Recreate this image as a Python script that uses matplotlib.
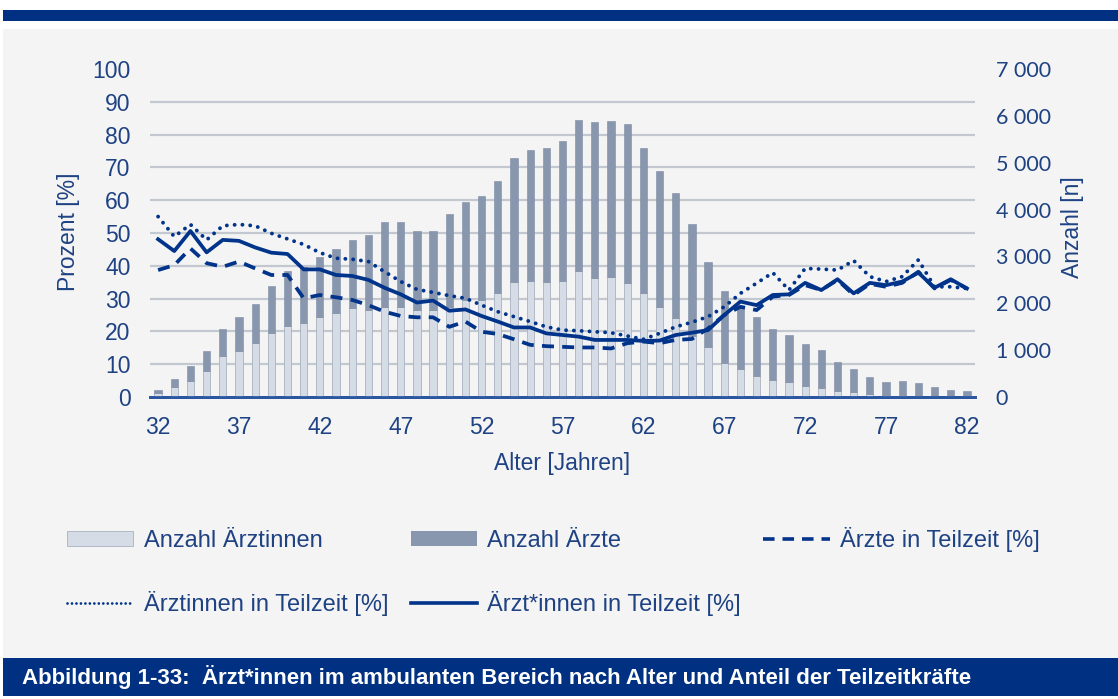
import matplotlib.pyplot as plt
import numpy as np
from matplotlib.ticker import MultipleLocator, FuncFormatter
from matplotlib.patches import Rectangle
from matplotlib.lines import Line2D

# Alter 32..82
alter = np.arange(32, 83)

# Anzahl (rechte Achse)
anzahl_aerztinnen = [85, 207, 348, 561, 874, 981, 1145, 1358, 1520, 1571,
                     1712, 1797, 1904, 1855, 1925, 1925, 1855, 1855, 1925, 2068,
                     2068, 2211, 2458, 2480, 2458, 2480, 2693, 2530, 2552, 2424,
                     2211, 1925, 1691, 1300, 1060, 718, 590, 454, 362, 313,
                     235, 185, 128, 100, 60, 40, 35, 30, 20, 15, 12]
anzahl_aerzte = [65, 173, 319, 419, 569, 731, 838, 1009, 1173, 1207,
                 1280, 1358, 1443, 1599, 1800, 1800, 1684, 1684, 1970, 2096,
                 2217, 2394, 2644, 2786, 2865, 2978, 3227, 3333, 3339, 3411,
                 3105, 2893, 2652, 2382, 1825, 1542, 1301, 1258, 1081, 1009,
                 895, 817, 625, 490, 360, 273, 306, 262, 187, 135, 116]

# Teilzeitanteile in % (linke Achse)
tz_aerzte = [38.7, 40.2, 45.3, 40.8, 39.7, 41.3, 39.2, 37.2, 37.2, 30.1,
             31.1, 30.4, 29.6, 28.0, 26.0, 24.7, 24.3, 24.3, 21.4, 23.0,
             19.9, 19.2, 17.6, 15.9, 15.5, 15.3, 15.1, 15.1, 14.8, 16.4,
             16.9, 16.4, 17.4, 17.7, 20.9, 25.0, 27.5, 26.5, 30.6, 31.1,
             34.1, 32.6, 35.7, 31.1, 34.5, 33.6, 34.8, 38.2, 33.1, 35.7, 33.1]
tz_aerztinnen = [55.0, 48.9, 52.6, 47.9, 52.2, 52.6, 52.2, 49.9, 48.2, 46.5,
                 44.0, 42.3, 42.0, 41.3, 38.2, 35.2, 32.8, 31.9, 30.9, 30.1,
                 28.0, 26.0, 24.5, 23.0, 21.4, 20.4, 20.2, 19.9, 19.6, 18.6,
                 17.6, 19.4, 21.4, 22.8, 24.5, 27.5, 31.6, 34.7, 37.9, 32.6,
                 39.2, 39.0, 38.7, 41.6, 36.7, 35.2, 36.7, 41.8, 33.6, 33.6, 33.1]
tz_gesamt = [48.1, 44.5, 50.6, 44.1, 47.9, 47.6, 45.6, 44.0, 43.6, 38.9,
             38.9, 37.2, 36.9, 35.7, 33.3, 31.3, 28.8, 29.4, 26.3, 26.7,
             24.7, 23.0, 21.2, 21.2, 19.4, 18.9, 18.4, 17.4, 17.4, 17.4,
             17.1, 17.2, 18.9, 19.6, 20.4, 25.0, 29.1, 28.0, 31.1, 31.3,
             34.8, 32.6, 35.9, 31.6, 34.8, 34.1, 35.2, 37.9, 33.3, 35.9, 33.1]

navy = '#00338a'
txt = '#1f4283'
hell = '#d6dce6'
dunkel = '#8896ae'

fig = plt.figure(figsize=(11.18, 6.99), dpi=100)
fig.patch.set_facecolor('white')

# Hintergrund, Balken oben, Bildunterschrift
fig.add_artist(Rectangle((3/1118, 1-658/699), 1, (658-29)/699, transform=fig.transFigure,
                         facecolor='#f4f4f4', edgecolor='none', zorder=-10))
fig.add_artist(Rectangle((3/1118, 1-21/699), 1, 11/699, transform=fig.transFigure,
                         facecolor='#003082', edgecolor='none', zorder=-9))
fig.add_artist(Rectangle((3/1118, 1-696/699), 1, 38/699, transform=fig.transFigure,
                         facecolor='#003082', edgecolor='none', zorder=-9))
fig.text(22/1118, 1-677/699,
         'Abbildung 1-33:  Ärzt*innen im ambulanten Bereich nach Alter und Anteil der Teilzeitkräfte',
         color='white', fontsize=16, fontweight='bold', family='Liberation Sans',
         va='center', ha='left')

ax = fig.add_axes([150/1118, 1-397/699, 825/1118, 328/699])
ax.set_facecolor('none')
ax2 = ax.twinx()

# Balken auf ax (Anzahl), Linien auf ax2 (Prozent) -> Linien liegen oben
w = 0.45
ax.bar(alter, anzahl_aerztinnen, width=w, color=hell, edgecolor='#aab2c0', linewidth=0.6, zorder=3)
ax.bar(alter, anzahl_aerzte, width=w, bottom=anzahl_aerztinnen, color=dunkel,
       edgecolor='#7d8ba3', linewidth=0.4, zorder=3)

ax.set_xlim(31.5, 82.5)
ax.set_ylim(0, 7000)
ax.yaxis.set_major_locator(MultipleLocator(1000))
ax.yaxis.set_minor_locator(MultipleLocator(700))
ax.yaxis.set_major_formatter(FuncFormatter(lambda v, p: f'{int(v):,}'.replace(',', ' ')))
ax.grid(which='minor', axis='y', color='#c3c7cf', linewidth=1.6, zorder=0)
ax.yaxis.tick_right()
ax.yaxis.set_label_position('right')
ax.tick_params(axis='y', which='both', length=0, pad=15, labelsize=15.5, labelcolor=txt)
for t in ax.get_yticklabels():
    t.set_family('Lato')
ax.set_xticks(alter[::5])
ax.tick_params(axis='x', length=0, pad=14, labelsize=16.5, labelcolor=txt)
for t in ax.get_xticklabels():
    t.set_family('Liberation Sans')
ax.set_xlabel('Alter [Jahren]', fontsize=16.5, color=txt, family='Liberation Sans', labelpad=9)

ax2.plot(alter, tz_aerzte, color=navy, lw=2.7, dashes=(3.2, 2.2), zorder=5)
ax2.plot(alter, tz_aerztinnen, color=navy, lw=2.8, dashes=(0.01, 2.0), dash_capstyle='round', zorder=5)
ax2.plot(alter, tz_gesamt, color=navy, lw=2.7, zorder=6)
ax2.set_ylim(0, 100)
ax2.yaxis.set_major_locator(MultipleLocator(10))
ax2.yaxis.tick_left()
ax2.yaxis.set_label_position('left')
ax2.tick_params(axis='y', length=0, pad=14, labelsize=16.5, labelcolor=txt)
for t in ax2.get_yticklabels():
    t.set_family('Liberation Sans')

for a in (ax, ax2):
    for s in ('top', 'left', 'right'):
        a.spines[s].set_visible(False)
    a.spines['bottom'].set_color('#2a56a0')
    a.spines['bottom'].set_linewidth(2)

fig.text(69/1118, 1-232/699, 'Prozent [%]', rotation=90, fontsize=16.5, color=txt,
         family='Liberation Sans', ha='center', va='center')
fig.text(1072/1118, 1-227/699, 'Anzahl [n]', rotation=90, fontsize=16.5, color=txt,
         family='Liberation Sans', ha='center', va='center')

# Legende
h_hell = Rectangle((0, 0), 1, 1, facecolor=hell, edgecolor='#aab2c0', linewidth=0.6)
h_dunkel = Rectangle((0, 0), 1, 1, facecolor=dunkel, edgecolor='none')
h_dash = Line2D([], [], color=navy, lw=2.6, dashes=(3.2, 2.2))
h_dot = Line2D([], [], color=navy, lw=2.0, dashes=(0.01, 1.6), dash_capstyle='round')
h_solid = Line2D([], [], color=navy, lw=2.6)
leg = fig.legend([h_hell, h_dot, h_dunkel, h_solid, h_dash],
                 ['Anzahl Ärztinnen', 'Ärztinnen in Teilzeit [%]', 'Anzahl Ärzte',
                  'Ärzt*innen in Teilzeit [%]', 'Ärzte in Teilzeit [%]'],
                 ncol=3, loc='upper left', bbox_to_anchor=(67/1118, 1-527/699),
                 frameon=False, handlelength=2.8, handleheight=0.6,
                 handletextpad=0.45, columnspacing=0.95, labelspacing=1.65,
                 borderpad=0, borderaxespad=0, prop={'family': 'Liberation Sans', 'size': 17})
for t in leg.get_texts():
    t.set_color(txt)

fig.savefig('out.png', dpi=100)
